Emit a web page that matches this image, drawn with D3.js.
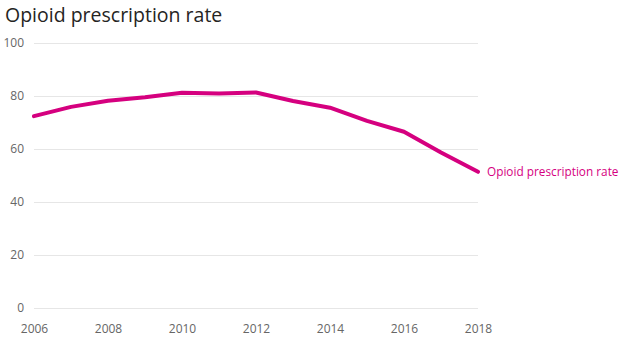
<!DOCTYPE html>
<html>
<head>
<meta charset="utf-8">
<script src="https://cdn.jsdelivr.net/npm/d3@7"></script>
<style>
  body { margin: 0; background: #fff; }
  text { font-family: "Open Sans", "Noto Sans", sans-serif; }
</style>
</head>
<body>
<div id="chart"></div>
<script>
var years = [2006, 2007, 2008, 2009, 2010, 2011, 2012, 2013, 2014, 2015, 2016, 2017, 2018];
var rates = [72.4, 75.9, 78.2, 79.5, 81.2, 80.9, 81.3, 78.1, 75.6, 70.6, 66.5, 58.7, 51.4];
var yTicks = [0, 20, 40, 60, 80, 100];
var xTicks = [2006, 2008, 2010, 2012, 2014, 2016, 2018];
var seriesName = "Opioid prescription rate";

var svgWidth = 623;
var svgHeight = 341;
var margin = { top: 43, right: 145, bottom: 33, left: 34 };
var width = svgWidth - margin.left - margin.right;
var height = svgHeight - margin.top - margin.bottom;
var pink = "#d5007f";

var svg = d3.select("#chart")
  .append("svg")
  .attr("width", svgWidth)
  .attr("height", svgHeight);

svg.append("text")
  .attr("x", 5)
  .attr("y", 22)
  .attr("font-size", "19.5px")
  .attr("fill", "#252423")
  .text("Opioid prescription rate");

var chartGroup = svg.append("g")
  .attr("transform", `translate(${margin.left}, ${margin.top})`);

var x = d3.scaleLinear()
  .domain([2006, 2018])
  .range([0, width]);

var y = d3.scaleLinear()
  .domain([0, 100])
  .range([height, 0]);

// gridlines + y labels
var leftAxis = d3.axisLeft(y)
  .tickValues(yTicks)
  .tickSize(-width)
  .tickPadding(10);

var yAxis = chartGroup.append("g").call(leftAxis);
yAxis.select(".domain").remove();
yAxis.selectAll(".tick line").attr("stroke", "#e6e6e6");
yAxis.selectAll(".tick text")
  .attr("fill", "#666666")
  .attr("font-size", "12px")
  .style("font-family", "'Open Sans', sans-serif");

var bottomAxis = d3.axisBottom(x)
  .tickValues(xTicks)
  .tickFormat(d3.format("d"))
  .tickSize(0)
  .tickPadding(16);

var xAxis = chartGroup.append("g")
  .attr("transform", `translate(0, ${height})`)
  .call(bottomAxis);
xAxis.select(".domain").remove();
xAxis.selectAll(".tick text")
  .attr("fill", "#666666")
  .attr("font-size", "12px")
  .style("font-family", "'Open Sans', sans-serif");

var line = d3.line()
  .x((d, i) => x(years[i]))
  .y(d => y(d));

chartGroup.append("path")
  .datum(rates)
  .attr("d", line)
  .attr("fill", "none")
  .attr("stroke", pink)
  .attr("stroke-width", 4)
  .attr("stroke-linejoin", "round")
  .attr("stroke-linecap", "round");

chartGroup.append("text")
  .attr("x", x(2018) + 9)
  .attr("y", y(rates[rates.length - 1]))
  .attr("dy", "0.35em")
  .attr("font-size", "11.8px")
  .attr("fill", pink)
  .text(seriesName);
</script>
</body>
</html>
